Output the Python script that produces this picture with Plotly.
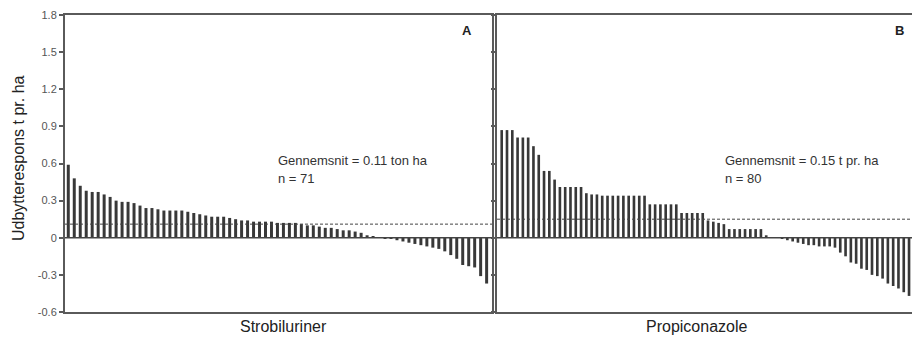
import plotly.graph_objects as go

strobiluriner = [0.59, 0.48, 0.42, 0.38, 0.37, 0.37, 0.35, 0.33, 0.30, 0.29,
                 0.29, 0.28, 0.26, 0.24, 0.24, 0.23, 0.22, 0.22, 0.22, 0.22,
                 0.21, 0.20, 0.19, 0.18, 0.17, 0.17, 0.17, 0.16, 0.15, 0.14,
                 0.14, 0.13, 0.13, 0.13, 0.13, 0.12, 0.12, 0.12, 0.12, 0.11,
                 0.10, 0.10, 0.09, 0.08, 0.08, 0.07, 0.06, 0.06, 0.05, 0.04,
                 0.02, 0.01, 0.00, -0.01, -0.01, -0.02, -0.03, -0.04, -0.05, -0.06,
                 -0.07, -0.08, -0.09, -0.11, -0.14, -0.17, -0.22, -0.23, -0.24, -0.31,
                 -0.37]
propiconazole = [0.87, 0.87, 0.87, 0.81, 0.81, 0.81, 0.74, 0.67, 0.54, 0.54,
                 0.47, 0.41, 0.41, 0.41, 0.41, 0.41, 0.36, 0.35, 0.35, 0.34,
                 0.34, 0.34, 0.34, 0.34, 0.34, 0.34, 0.34, 0.34, 0.27, 0.27,
                 0.27, 0.27, 0.27, 0.27, 0.20, 0.20, 0.20, 0.20, 0.20, 0.14,
                 0.13, 0.12, 0.11, 0.07, 0.07, 0.07, 0.07, 0.07, 0.07, 0.07,
                 0.02, 0.00, 0.00, -0.01, -0.02, -0.03, -0.04, -0.05, -0.06, -0.06,
                 -0.07, -0.07, -0.07, -0.08, -0.12, -0.15, -0.20, -0.21, -0.25, -0.26,
                 -0.30, -0.31, -0.33, -0.37, -0.39, -0.41, -0.44, -0.47, -0.49, -0.52]
mean_a = 0.11
mean_b = 0.15
y_ticks = [-0.6, -0.3, 0, 0.3, 0.6, 0.9, 1.2, 1.5, 1.8]
y_ticktext = ["-0.6", "-0.3", "0", "0.3", "0.6", "0.9", "1.2", "1.5", "1.8"]

W, H = 912, 339
ML, MR, MT, MB = 65, 0, 15, 27
PW = W - ML - MR
PH = H - MT - MB

def px(x):
    return (x - ML) / PW

def py(y):
    return (H - MB - y) / PH

bar_color = "#383838"
line_color = "#5a5a5a"

fig = go.Figure()
fig.add_trace(go.Bar(x=list(range(1, len(strobiluriner) + 1)), y=strobiluriner,
                     marker=dict(color=bar_color, line=dict(width=0)),
                     xaxis="x", yaxis="y", showlegend=False))
fig.add_trace(go.Bar(x=list(range(1, len(propiconazole) + 1)), y=propiconazole,
                     marker=dict(color=bar_color, line=dict(width=0)),
                     xaxis="x2", yaxis="y2", showlegend=False))

axis_common = dict(showgrid=False, zeroline=False, linecolor=line_color, linewidth=2)

fig.update_layout(
    width=W, height=H,
    margin=dict(l=ML, r=MR, t=MT, b=MB),
    plot_bgcolor="white", paper_bgcolor="white",
    bargap=0.5,
    font=dict(family="Liberation Sans, Arial", color="#333"),
    xaxis=dict(domain=[0, px(492)], range=[0.45, 71.9], showticklabels=False,
               ticks="", showline=True, mirror=True, **axis_common),
    yaxis=dict(domain=[0, 1], range=[-0.6, 1.8], tickvals=y_ticks, ticktext=y_ticktext,
               ticks="outside", ticklen=4, tickcolor=line_color, tickwidth=1.5,
               tickfont=dict(size=11, color="#555"),
               showline=True, mirror=True, **axis_common),
    xaxis2=dict(domain=[px(497), 1], range=[0.11, 78.56], showticklabels=False,
                ticks="", showline=True, mirror=True, anchor="y2", **axis_common),
    yaxis2=dict(domain=[0, 1], range=[-0.6, 1.8], tickvals=y_ticks, showticklabels=False,
                ticks="outside", ticklen=4, tickcolor=line_color, tickwidth=1.5,
                showline=True, mirror=False, anchor="x2", **axis_common),
)

# zero lines and mean lines
for xr, yr, m in [("x", "y", mean_a), ("x2", "y2", mean_b)]:
    fig.add_shape(type="line", xref=f"{xr} domain", yref=yr, x0=0, x1=1, y0=0, y1=0,
                  line=dict(color="#444", width=1.5), layer="above")
    fig.add_shape(type="line", xref=f"{xr} domain", yref=yr, x0=0, x1=1, y0=m, y1=m,
                  line=dict(color="#444", width=1, dash="3px,2px"), layer="above")

ann_font = dict(size=13, color="#333")
fig.add_annotation(xref="paper", yref="paper", x=px(276), y=py(160), xanchor="left",
                   yanchor="middle", text="Gennemsnit = 0.11 ton ha", showarrow=False, font=ann_font)
fig.add_annotation(xref="paper", yref="paper", x=px(276), y=py(179), xanchor="left",
                   yanchor="middle", text="n = 71", showarrow=False, font=ann_font)
fig.add_annotation(xref="paper", yref="paper", x=px(723), y=py(160), xanchor="left",
                   yanchor="middle", text="Gennemsnit = 0.15 t pr. ha", showarrow=False, font=ann_font)
fig.add_annotation(xref="paper", yref="paper", x=px(723), y=py(179), xanchor="left",
                   yanchor="middle", text="n = 80", showarrow=False, font=ann_font)
fig.add_annotation(xref="paper", yref="paper", x=px(467), y=py(31), xanchor="center",
                   yanchor="middle", text="<b>A</b>", showarrow=False, font=dict(size=13, color="#222"))
fig.add_annotation(xref="paper", yref="paper", x=px(899), y=py(31), xanchor="center",
                   yanchor="middle", text="<b>B</b>", showarrow=False, font=dict(size=13, color="#222"))
fig.add_annotation(xref="paper", yref="paper", x=px(283), y=py(326), xanchor="center",
                   yanchor="middle", text="Strobiluriner", showarrow=False, font=dict(size=16, color="#222"))
fig.add_annotation(xref="paper", yref="paper", x=px(697), y=py(326), xanchor="center",
                   yanchor="middle", text="Propiconazole", showarrow=False, font=dict(size=16, color="#222"))
fig.add_annotation(xref="paper", yref="paper", x=px(18), y=py(158), xanchor="center",
                   yanchor="middle", text="Udbytterespons t pr. ha", textangle=-90,
                   showarrow=False, font=dict(size=16, color="#222"))

fig.write_html("out.html", config={"displayModeBar": False},
               post_script="document.body.style.margin='0';document.body.style.padding='0';")
